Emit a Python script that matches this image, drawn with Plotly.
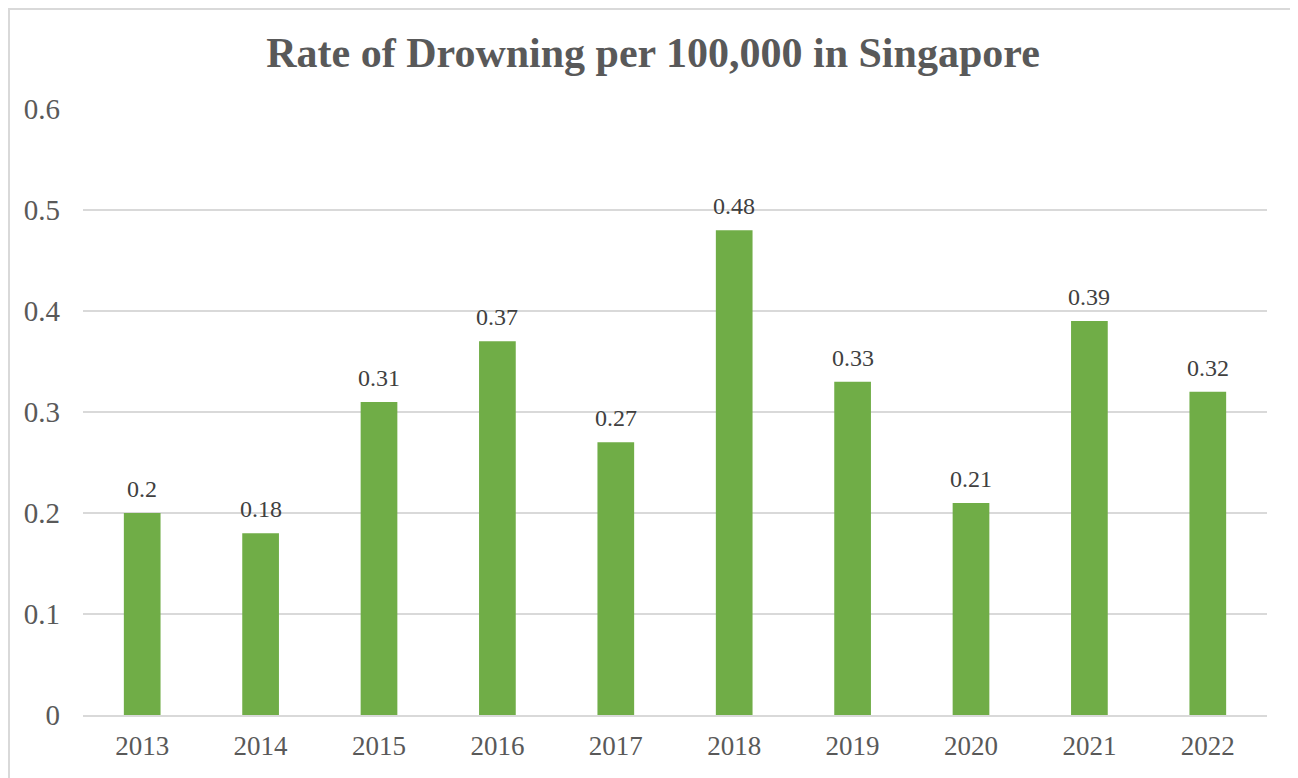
import plotly.graph_objects as go

years = ["2013", "2014", "2015", "2016", "2017", "2018", "2019", "2020", "2021", "2022"]
rates = [0.2, 0.18, 0.31, 0.37, 0.27, 0.48, 0.33, 0.21, 0.39, 0.32]
y_ticks = [0, 0.1, 0.2, 0.3, 0.4, 0.5, 0.6]
y_tick_labels = ["0", "0.1", "0.2", "0.3", "0.4", "0.5", "0.6"]

FONT = "Liberation Serif, Times New Roman, serif"

fig = go.Figure(go.Bar(
    x=years, y=rates,
    marker=dict(color="#70AD47", line=dict(width=0)),
))

# category positions are indices on a category axis
for i, v in enumerate(rates):
    fig.add_annotation(x=i, y=v, text=str(v), showarrow=False,
                       xanchor="center", yanchor="bottom", yshift=9,
                       font=dict(family=FONT, size=24, color="#404040"))

# page body has an 8px offset
OFF = 8
W, H = 1298 - OFF, 778 - OFF
L, T = 83 - OFF, 109 - OFF
pw, ph = 1184, 606
R = W - L - pw
B = H - T - ph

def px_x(p):
    return (p - OFF - L) / pw

def px_y(p):
    return (T + ph - (p - OFF)) / ph

fig.update_layout(
    width=W, height=H,
    margin=dict(l=L, r=R, t=T, b=B),
    paper_bgcolor="white", plot_bgcolor="white",
    bargap=0.69,
    showlegend=False,
    title=dict(text="<b>Rate of Drowning per 100,000 in Singapore</b>",
               x=0.5, xanchor="center", y=1 - (52 - OFF) / H, yanchor="middle",
               font=dict(family=FONT, size=42, color="#595959")),
    xaxis=dict(type="category", range=[-0.5, len(years) - 0.5],
               showgrid=False, showline=True, linecolor="#D9D9D9", linewidth=2,
               ticks="", tickfont=dict(family=FONT, size=27, color="#595959"),
               ticklabelstandoff=6),
    yaxis=dict(range=[0, 0.6], tickvals=y_ticks, ticktext=y_tick_labels,
               showgrid=True, gridcolor="#D9D9D9", gridwidth=1.5, zeroline=False,
               showline=False, ticks="",
               tickfont=dict(family=FONT, size=29, color="#595959"),
               ticklabelstandoff=22),
    shapes=[dict(type="rect", xref="paper", yref="paper",
                 x0=px_x(OFF + 1), x1=px_x(1295), y0=px_y(790), y1=px_y(OFF + 1),
                 line=dict(color="#D9D9D9", width=2), layer="below")],
)

fig.write_html("out.html")
